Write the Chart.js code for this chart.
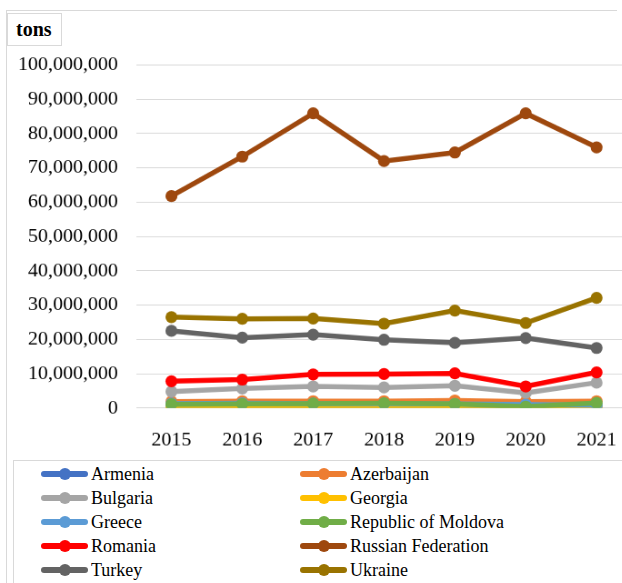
<!DOCTYPE html>
<html>
<head>
<meta charset="utf-8">
<script src="https://cdn.jsdelivr.net/npm/chart.js@4.4.0/dist/chart.umd.min.js"></script>
<style>
    body { margin: 0; background: #fff; }
    #marco { position: absolute; left: 6px; top: 10px; width: 610px; height: 600px; border: 1px solid #d9d9d9; border-right: none; }
    #caja-grafico { position: absolute; left: 0; top: 0; width: 622px; height: 460px; overflow: hidden; }
    #grafico { transform: scale(0.9090909); transform-origin: 0 0; }
    #unidad { position: absolute; left: 7px; top: 13px; width: 53px; height: 31px; border: 1px solid #d9d9d9; background: #fff; line-height: 31px; }
    #unidad span { position: absolute; left: 8px; top: 0; font-family: 'Liberation Serif', serif; font-weight: bold; font-size: 22px; line-height: 31px;
        transform: scale(0.9090909); transform-origin: 0 50%; color: #000; }
    #leyenda { position: absolute; left: 13px; top: 460px; width: 620px; height: 140px; border: 1px solid #d9d9d9; border-right: none; }
    .item { position: absolute; height: 24px; white-space: nowrap; }
    .marca { position: absolute; left: 0; top: 9px; width: 47px; height: 6px; border-radius: 3px; }
    .punto { position: absolute; left: 18px; top: 6px; width: 12px; height: 12px; border-radius: 6px; }
    .texto { position: absolute; left: 50px; top: 0; font-family: 'Liberation Serif', serif; font-size: 22px; line-height: 24px; color: #000;
        transform: scale(0.818); transform-origin: 0 50%; }
</style>
</head>
<body>
<div id="marco"></div>
<div id="caja-grafico"><canvas id="grafico" width="704" height="506"></canvas></div>
<div id="unidad"><span>tons</span></div>
<div id="leyenda"></div>
<script>
var ANIOS = ['2015', '2016', '2017', '2018', '2019', '2020', '2021'];
var PAISES = ['Armenia', 'Azerbaijan', 'Bulgaria', 'Georgia', 'Greece', 'Republic of Moldova', 'Romania', 'Russian Federation', 'Turkey', 'Ukraine'];
var COLORES = ['#4472C4', '#ED7D31', '#A5A5A5', '#FFC000', '#5B9BD5', '#70AD47', '#FF0000', '#9E480E', '#636363', '#997300'];

var ARMENIA = [600000, 600000, 600000, 600000, 600000, 500000, 500000];
var AZERBAIJAN = [1900000, 2000000, 2000000, 2000000, 2200000, 1900000, 2000000];
var BULGARIA = [4800000, 5700000, 6300000, 6000000, 6500000, 4400000, 7400000];
var GEORGIA = [100000, 100000, 100000, 100000, 100000, 100000, 100000];
var GREECE = [1300000, 1400000, 1300000, 1300000, 1200000, 1000000, 900000];
var MOLDOVA = [1100000, 1200000, 1300000, 1400000, 1200000, 400000, 1500000];
var ROMANIA = [7800000, 8300000, 9800000, 9900000, 10100000, 6300000, 10400000];
var RUSIA = [61800000, 73300000, 85900000, 72000000, 74500000, 85900000, 76000000];
var TURQUIA = [22500000, 20500000, 21400000, 19900000, 19000000, 20400000, 17500000];
var UCRANIA = [26500000, 26000000, 26100000, 24600000, 28400000, 24800000, 32100000];

var SERIES = [ARMENIA, AZERBAIJAN, BULGARIA, GEORGIA, GREECE, MOLDOVA, ROMANIA, RUSIA, TURQUIA, UCRANIA];

// el canvas se dibuja 1.1 veces mas grande y se reduce con css
var K = 1.1;

function armarDatasets() {
    var datasets = [];
    for (var i in SERIES) {
        datasets.push({
            label: PAISES[i],
            data: SERIES[i],
            borderColor: COLORES[i],
            backgroundColor: COLORES[i],
            borderWidth: 5 * K,
            pointRadius: 6 * K,
            pointHoverRadius: 6 * K,
            pointBorderWidth: 0,
            lineTension: 0,
            fill: false,
            order: SERIES.length - i
        });
    }
    return datasets;
}

function armarLeyenda() {
    var html = '';
    for (var i = 0; i < PAISES.length; i++) {
        var col = i % 2;
        var fila = Math.floor(i / 2);
        var x = col === 0 ? 27 : 286;
        var y = 1 + fila * 24;
        html += '<div class="item" style="left:' + x + 'px;top:' + y + 'px;">' +
            '<span class="marca" style="background:' + COLORES[i] + ';"></span>' +
            '<span class="punto" style="background:' + COLORES[i] + ';"></span>' +
            '<span class="texto">' + PAISES[i] + '</span></div>';
    }
    document.getElementById('leyenda').innerHTML = html;
}

var GRAFICO = new Chart(document.getElementById('grafico'), {
    type: 'line',
    data: {
        labels: ANIOS,
        datasets: armarDatasets()
    },
    options: {
        responsive: false,
        animation: false,
        layout: {
            padding: {top: 65 * K, right: 8 * K, left: 0, bottom: 0}
        },
        plugins: {
            legend: {display: false},
            tooltip: {enabled: false}
        },
        scales: {
            x: {
                offset: true,
                grid: {display: false},
                border: {display: false},
                ticks: {
                    color: '#000',
                    padding: 13 * K,
                    maxRotation: 0,
                    font: {family: 'Liberation Serif', size: 22}
                },
                afterFit: function (scale) {
                    scale.height = 52 * K;
                }
            },
            y: {
                min: 0,
                max: 100000000,
                grid: {color: '#d9d9d9', lineWidth: K, drawTicks: false},
                border: {display: false},
                ticks: {
                    stepSize: 10000000,
                    color: '#000',
                    padding: 18 * K,
                    font: {family: 'Liberation Serif', size: 22},
                    callback: function (v) {
                        return Number(v).toLocaleString('en-US');
                    }
                },
                afterFit: function (scale) {
                    scale.width = 136 * K;
                }
            }
        }
    }
});

armarLeyenda();
</script>
</body>
</html>
